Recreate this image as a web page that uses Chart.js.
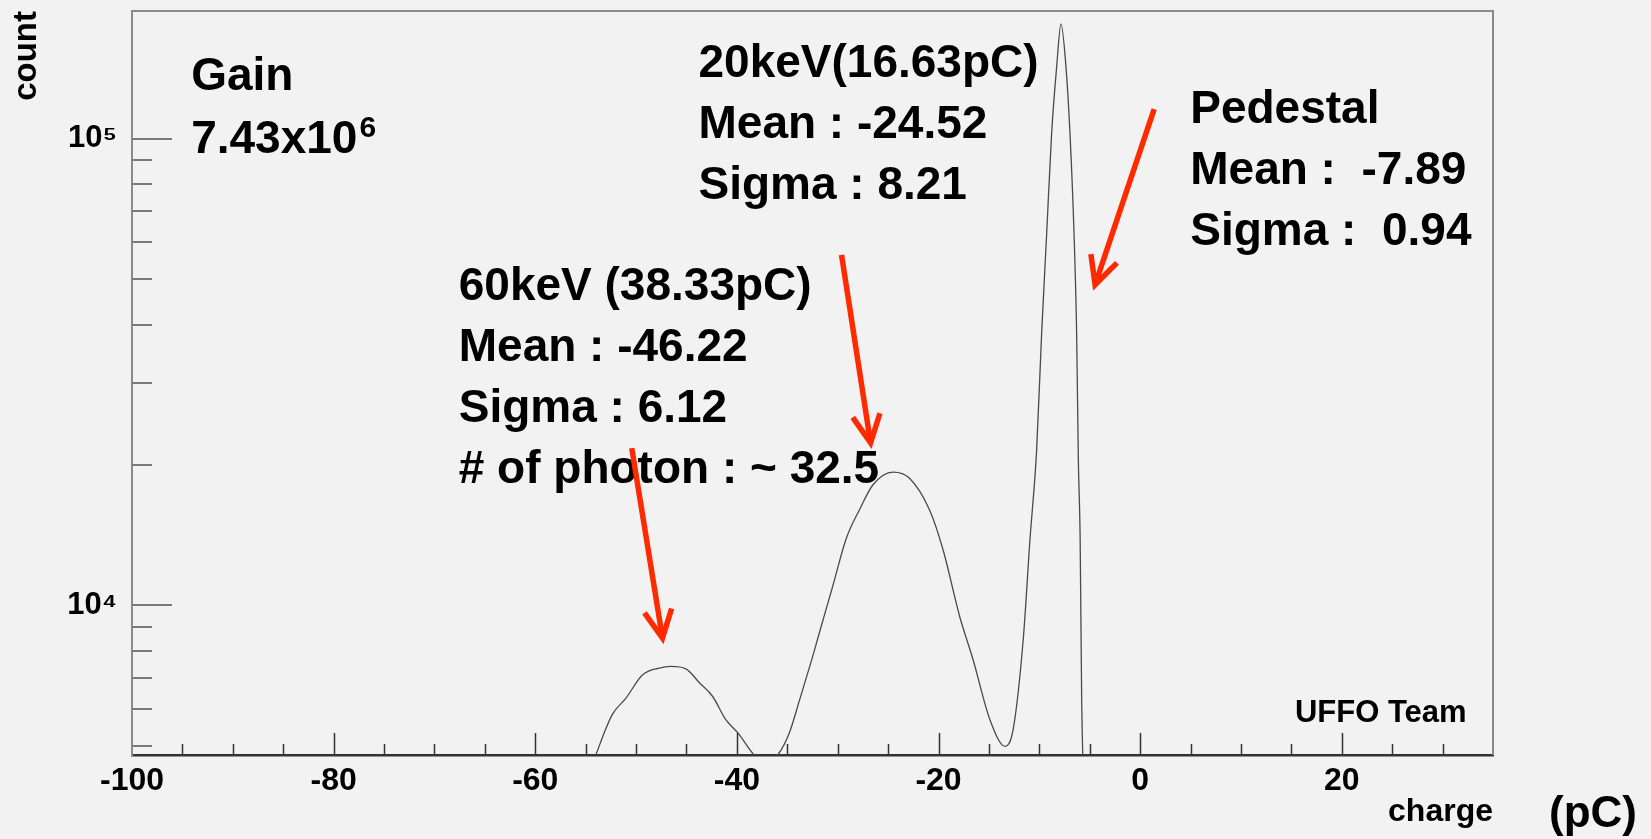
<!DOCTYPE html>
<html>
<head>
<meta charset="utf-8">
<title>UFFO charge spectrum</title>
<script src="https://cdn.jsdelivr.net/npm/chart.js@4.4.1/dist/chart.umd.min.js"></script>
<style>
  html, body { margin: 0; padding: 0; background: #f2f2f2; }
  #spectrum { display: block; }
</style>
</head>
<body>
<canvas id="spectrum" width="1651" height="839"></canvas>
<script>
// charge spectrum (charge in pC, counts per bin)
const chargeValues = [
  -54.6, -54.0, -53.3, -52.35, -51.0, -49.35, -47.7, -46.55, -45.06, -43.7, -42.4, -41.1, -39.9, -38.3, -37.2,
  -35.95, -34.8, -33.8, -32.5, -31.5, -30.5, -29.16, -27.8, -26.5, -24.5, -22.9, -20.9, -19.55, -17.9, -16.57,
  -14.9, -13.4, -12.6, -11.6, -10.93, -10.27, -9.77, -9.27, -8.78, -8.28, -7.85, -7.36, -6.96, -6.56, -6.3,
  -6.13, -5.95, -5.8, -5.6
];
const countValues = [
  4500, 4780, 5240, 5840, 6330, 7100, 7340, 7400, 7310, 6820, 6380, 5690, 5330, 4780, 4550,
  4780, 5330, 6250, 7750, 9240, 10980, 13900, 16100, 18140, 19310, 18750, 16030, 13160, 9470, 7650,
  5690, 4990, 5420, 8440, 13830, 21500, 38350, 62800, 102800, 142900, 176400, 142900, 102800, 62800, 38350,
  20500, 13830, 6280, 4000
];

// axes
const xLabelValues = [-100, -80, -60, -40, -20, 0, 20];
const yTickValues = [5000, 6000, 7000, 8000, 9000, 10000, 20000, 30000, 40000, 50000, 60000, 70000, 80000, 90000, 100000];
const yLabelValues = [10000, 100000];
const yLabelTexts = ['10\u2074', '10\u2075'];

// annotation blocks, anchored in data coordinates (charge, count)
const noteBlocks = [
  { x: -43.81, y: 135600, lines: ['20keV(16.63pC)', 'Mean : -24.52', 'Sigma : 8.21'] },
  { x: 4.97, y: 108100, lines: ['Pedestal', 'Mean :  -7.89', 'Sigma :  0.94'] },
  { x: -67.59, y: 45190, lines: ['60keV (38.33pC)', 'Mean : -46.22', 'Sigma : 6.12', '# of photon : ~ 32.5'] }
];
const arrows = [
  { from: [1.39, 115800], to: [-4.47, 48670] },
  { from: [-29.62, 56400], to: [-26.74, 22320] },
  { from: [-50.43, 21740], to: [-47.38, 8513] }
];

const FONT = '"Liberation Sans", Arial, Helvetica, sans-serif';

const rootStyle = {
  id: 'rootStyle',
  beforeDraw(chart) {
    const ctx = chart.ctx;
    ctx.save();
    ctx.fillStyle = '#f2f2f2';
    ctx.fillRect(0, 0, chart.width, chart.height);
    ctx.restore();
  },
  afterDraw(chart) {
    const { ctx, chartArea: a, scales: { x, y } } = chart;
    ctx.save();

    // top and right frame
    ctx.strokeStyle = '#8a8a8a';
    ctx.lineWidth = 2;
    ctx.beginPath();
    ctx.moveTo(a.left, a.top);
    ctx.lineTo(a.right, a.top);
    ctx.lineTo(a.right, a.bottom);
    ctx.stroke();

    // ticks drawn inside the frame, ROOT style
    ctx.strokeStyle = '#333';
    ctx.lineWidth = 1.5;
    x.ticks.forEach(t => {
      if (t.value <= x.min || t.value >= x.max) return;
      const px = Math.round(x.getPixelForValue(t.value)) + 0.5;
      const len = t.value % 20 === 0 ? 22 : 11;
      ctx.beginPath();
      ctx.moveTo(px, a.bottom);
      ctx.lineTo(px, a.bottom - len);
      ctx.stroke();
    });
    ctx.strokeStyle = '#7a7a7a';
    ctx.lineWidth = 2;
    y.ticks.forEach(t => {
      const py = Math.round(y.getPixelForValue(t.value));
      const len = yLabelValues.includes(t.value) ? 40 : 20;
      ctx.beginPath();
      ctx.moveTo(a.left, py);
      ctx.lineTo(a.left + len, py);
      ctx.stroke();
    });

    // text
    ctx.fillStyle = '#000';
    ctx.textBaseline = 'alphabetic';
    ctx.textAlign = 'left';
    ctx.font = 'bold 46px ' + FONT;
    noteBlocks.forEach(b => {
      const px = x.getPixelForValue(b.x);
      const py = y.getPixelForValue(b.y);
      b.lines.forEach((line, i) => ctx.fillText(line, px, py + i * 61));
    });

    // gain with superscript exponent
    const gx = x.getPixelForValue(-94.13);
    const gy = y.getPixelForValue(127400);
    ctx.fillText('Gain', gx, gy);
    ctx.fillText('7.43x10', gx, gy + 63);
    const w = ctx.measureText('7.43x10').width;
    ctx.font = 'bold 30px ' + FONT;
    ctx.fillText('6', gx + w + 2, gy + 47);

    ctx.font = 'bold 31px ' + FONT;
    ctx.textAlign = 'right';
    ctx.fillText('UFFO Team', x.getPixelForValue(32.38), y.getPixelForValue(5615));

    ctx.font = 'bold 44px ' + FONT;
    ctx.fillText('(pC)', chart.width - 14, chart.height - 12);

    // red arrows
    ctx.strokeStyle = '#ff2a00';
    ctx.lineWidth = 5.5;
    ctx.lineCap = 'butt';
    ctx.lineJoin = 'miter';
    arrows.forEach(ar => {
      const x0 = x.getPixelForValue(ar.from[0]), y0 = y.getPixelForValue(ar.from[1]);
      const x1 = x.getPixelForValue(ar.to[0]), y1 = y.getPixelForValue(ar.to[1]);
      const ang = Math.atan2(y1 - y0, x1 - x0);
      ctx.beginPath();
      ctx.moveTo(x0, y0);
      ctx.lineTo(x1 - 3 * Math.cos(ang), y1 - 3 * Math.sin(ang));
      ctx.stroke();
      const hl = 31, spread = 0.46;
      ctx.beginPath();
      ctx.moveTo(x1 - hl * Math.cos(ang - spread), y1 - hl * Math.sin(ang - spread));
      ctx.lineTo(x1, y1);
      ctx.lineTo(x1 - hl * Math.cos(ang + spread), y1 - hl * Math.sin(ang + spread));
      ctx.stroke();
    });

    ctx.restore();
  }
};

const chart = new Chart(document.getElementById('spectrum'), {
  type: 'line',
  data: {
    datasets: [{
      label: 'count',
      data: chargeValues.map((c, i) => ({ x: c, y: countValues[i] })),
      borderColor: '#4a4a4a',
      borderWidth: 1.3,
      pointRadius: 0,
      fill: false,
      cubicInterpolationMode: 'monotone'
    }]
  },
  options: {
    responsive: false,
    animation: false,
    devicePixelRatio: 1,
    layout: { padding: { top: 11, right: 158, bottom: 0, left: 0 } },
    plugins: {
      legend: { display: false },
      tooltip: { enabled: false }
    },
    scales: {
      x: {
        type: 'linear',
        min: -100,
        max: 35,
        grid: { display: false, drawTicks: false },
        border: { display: true, color: '#333', width: 2.5 },
        ticks: {
          stepSize: 5,
          autoSkip: false,
          maxRotation: 0,
          padding: 7,
          color: '#000',
          font: { family: FONT, size: 32, weight: 'bold' },
          callback: v => xLabelValues.includes(v) ? String(v) : ''
        },
        title: {
          display: true,
          text: 'charge',
          align: 'end',
          color: '#000',
          font: { family: FONT, size: 32, weight: 'bold' },
          padding: { top: 0, bottom: 8 }
        },
        afterFit(scale) {
          scale.height = 84;
          scale.paddingLeft = 0;
          scale.paddingRight = 0;
        }
      },
      y: {
        type: 'logarithmic',
        min: 4780,
        max: 188000,
        grid: { display: false, drawTicks: false },
        border: { display: true, color: '#8a8a8a', width: 2 },
        afterBuildTicks(scale) {
          scale.ticks = yTickValues.map(v => ({ value: v }));
        },
        ticks: {
          autoSkip: false,
          padding: 15,
          color: '#000',
          font: { family: FONT, size: 31, weight: 'bold' },
          callback: v => {
            const i = yLabelValues.indexOf(v);
            return i >= 0 ? yLabelTexts[i] : '';
          }
        },
        title: {
          display: true,
          text: 'count',
          align: 'end',
          color: '#000',
          font: { family: FONT, size: 33, weight: 'bold' },
          padding: { top: 7, bottom: 0 }
        },
        afterFit(scale) {
          scale.width = 132;
          scale.paddingTop = 0;
          scale.paddingBottom = 0;
        }
      }
    }
  },
  plugins: [rootStyle]
});
</script>
</body>
</html>
